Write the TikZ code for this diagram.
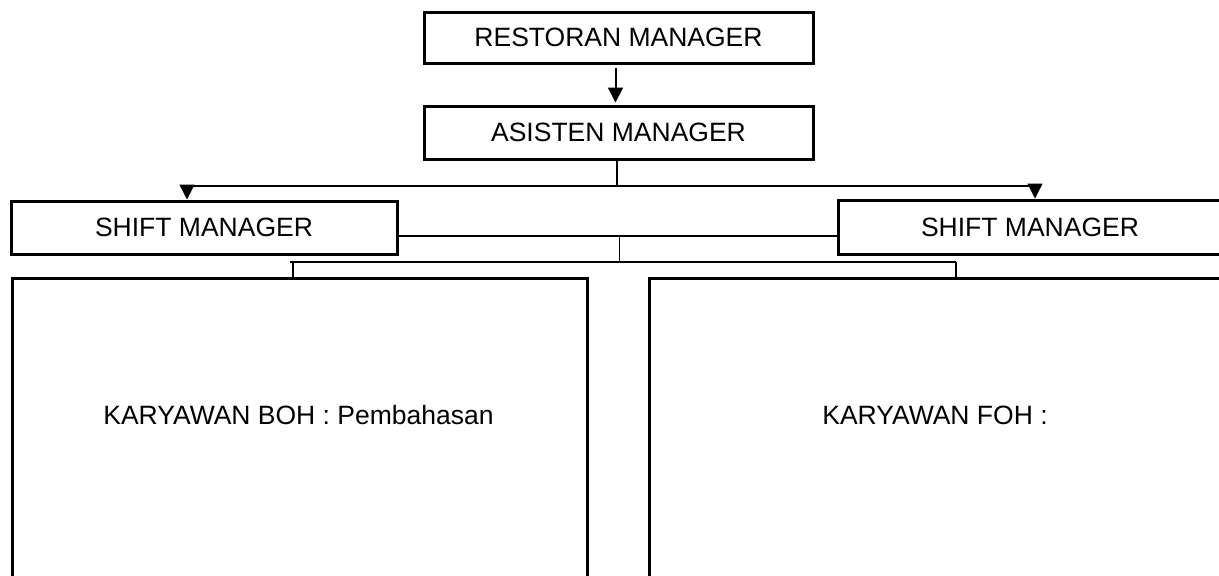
\documentclass[tikz,border=0pt]{standalone}
\usepackage{fontspec}
\setmainfont{Liberation Sans}
\usetikzlibrary{arrows.meta,positioning}
\begin{document}
\begin{tikzpicture}[x=1pt,y=-1pt,
  box/.style={draw=black,line width=3pt,rectangle,inner sep=0pt,
    font=\fontsize{26.5}{30}\selectfont},
  lbl/.style={inner sep=0pt,font=\fontsize{26.5}{30}\selectfont},
  conn/.style={draw=black,line width=1.3pt},
  tri/.style={-{Triangle[length=15pt,width=15pt]}}]
\clip (0,0) rectangle (1219,576);
\fill[white] (0,0) rectangle (1219,576);
% boxes
\node[box,minimum width=389pt,minimum height=51pt] (rm) at (618.5,37.5) {RESTORAN MANAGER};
\node[box,minimum width=389pt,minimum height=53pt] (am) at (618.5,132.5) {ASISTEN MANAGER};
\node[box,minimum width=386pt,minimum height=53pt] (ls) at (204,227.5) {SHIFT MANAGER};
\node[box,minimum width=384pt,minimum height=54pt] (rs) at (1030,227) {SHIFT MANAGER};
\node[box,minimum width=575pt,minimum height=330pt,anchor=north west] (boh) at (11,277) {};
\node[box,minimum width=574pt,minimum height=330pt,anchor=north west] (foh) at (648,277) {};
\node[lbl] (bohtxt) at (298.5,415) {KARYAWAN BOH : Pembahasan};
\node[lbl] (fohtxt) at (935,415) {KARYAWAN FOH :};
% coordinates
\coordinate (j1) at (617,186);
\coordinate (aL) at (187,186);
\coordinate (aR) at (1035,186);
\coordinate (m1) at (619.5,236);
\coordinate (m2) at (619.5,262);
\coordinate (bL0) at (290,262);
\coordinate (bL) at (293,262);
\coordinate (bR) at (956,262);
% connectors
\draw[conn,line width=2pt,tri,shorten <=3pt,shorten >=2pt] ([xshift=-3pt]rm.south) -- ([xshift=-3pt]am.north);
\draw[conn] (am.south -| j1) -- (j1);
\draw[conn] (aL) -- (aR);
\draw[conn,tri] (aL) -- (aL |- ls.north);
\draw[conn,tri] (aR) -- (aR |- rs.north);
\draw[conn] (ls.east |- m1) -- (rs.west |- m1);
\draw[conn] (m1) -- (m2);
\draw[conn] (bL0) -- (bR);
\draw[conn] (bL) -- (bL |- boh.north);
\draw[conn] (bR) -- (bR |- foh.north);
\end{tikzpicture}
\end{document}
